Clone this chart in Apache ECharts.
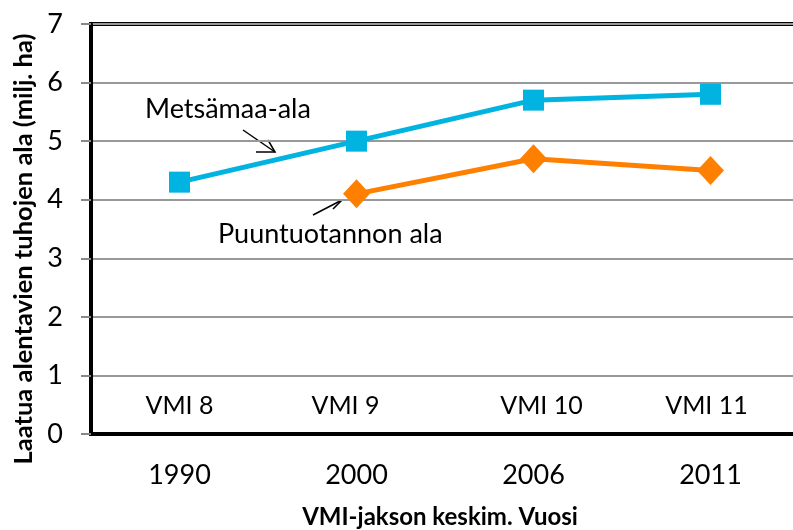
<!DOCTYPE html>
<html><head><meta charset="utf-8">
<script src="https://cdn.jsdelivr.net/npm/echarts@6/dist/echarts.min.js"></script>
<style>html,body{margin:0;padding:0;background:#fff}#c{width:793px;height:530px}</style>
</head><body><div id="c"></div>
<script>
const years = ['1990', '2000', '2006', '2011'];
const vmiLabels = ['VMI 8', 'VMI 9', 'VMI 10', 'VMI 11'];
const metsamaa = [4.3, 5.0, 5.7, 5.8];
const puuntuotanto = [null, 4.1, 4.7, 4.5];
const yTicks = [0, 1, 2, 3, 4, 5, 6, 7];

const FONT = 'Lato';
const vmiStyle = {fontFamily: FONT, fontSize: 25, color: '#000'};
const chart = echarts.init(document.getElementById('c'), null, {renderer: 'canvas'});
chart.setOption({
  animation: false,
  backgroundColor: '#fff',
  grid: {left: 91, top: 24, width: 708, height: 410, show: true, borderColor: '#000', borderWidth: 4,
    backgroundColor: 'transparent', containLabel: false, outerBoundsMode: 'none'},
  xAxis: [{
    type: 'category', data: years, position: 'bottom',
    axisLine: {lineStyle: {color: '#000', width: 3}},
    axisTick: {show: false},
    axisLabel: {fontFamily: FONT, fontSize: 27, color: '#000', margin: 28},
    name: 'VMI-jakson keskim. Vuosi', nameLocation: 'middle', nameGap: 71,
    nameTextStyle: {fontFamily: FONT, fontWeight: 'bold', fontSize: 24, color: '#000', padding: [0, 10, 0, 0]}
  }, {
    type: 'category', data: vmiLabels, position: 'bottom',
    axisLine: {show: false}, axisTick: {show: false},
    axisLabel: {inside: true, margin: 16, ...vmiStyle,
      formatter: (v, i) => '{s' + i + '|' + v + '}',
      rich: {
        s0: {...vmiStyle},
        s1: {...vmiStyle, padding: [0, 22, 0, 0]},
        s2: {...vmiStyle, padding: [0, 0, 0, 16]},
        s3: {...vmiStyle, padding: [0, 8, 0, 0]}
      }}
  }],
  yAxis: {
    type: 'value', min: 0, max: 7, interval: 1,
    axisLine: {show: true, lineStyle: {color: '#000', width: 3}},
    axisTick: {show: true, length: 10, lineStyle: {color: '#888', width: 2}},
    splitLine: {lineStyle: {color: '#999', width: 2}},
    axisLabel: {fontFamily: FONT, fontSize: 27, color: '#000', margin: 28,
      formatter: v => yTicks.includes(v) ? String(v) : ''},
    name: 'Laatua alentavien tuhojen ala (milj. ha)', nameLocation: 'middle', nameGap: 52,
    nameTextStyle: {fontFamily: FONT, fontWeight: 'bold', fontSize: 25.5, color: '#000', padding: [0, 40, 0, 0]}
  },
  series: [{
    name: 'Metsämaa-ala', type: 'line', data: metsamaa, xAxisIndex: 0,
    symbol: 'rect', symbolSize: 21,
    lineStyle: {color: '#00B3E0', width: 5},
    itemStyle: {color: '#00B3E0'}
  }, {
    name: 'Puuntuotannon ala', type: 'line', data: puuntuotanto, xAxisIndex: 0,
    symbol: 'diamond', symbolSize: [27, 29],
    lineStyle: {color: '#FF8000', width: 5},
    itemStyle: {color: '#FF8000'}
  }],
  graphic: [
    {type: 'text', left: 145, top: 96, style: {text: 'Metsämaa-ala', fontFamily: FONT, fontSize: 27, fill: '#000'}},
    {type: 'line', shape: {x1: 243, y1: 130, x2: 275, y2: 152}, style: {stroke: '#000', lineWidth: 1.5}},
    {type: 'polyline', shape: {points: [[256, 152], [275, 152], [268, 140]]}, style: {stroke: '#000', lineWidth: 1.5, fill: null}},
    {type: 'text', left: 218, top: 221, style: {text: 'Puuntuotannon ala', fontFamily: FONT, fontSize: 27, fill: '#000'}},
    {type: 'line', shape: {x1: 313, y1: 215, x2: 342, y2: 200}, style: {stroke: '#000', lineWidth: 1.5}},
    {type: 'polyline', shape: {points: [[329, 200], [342, 200], [333, 209]]}, style: {stroke: '#000', lineWidth: 1.5, fill: null}}
  ]
});
</script></body></html>
